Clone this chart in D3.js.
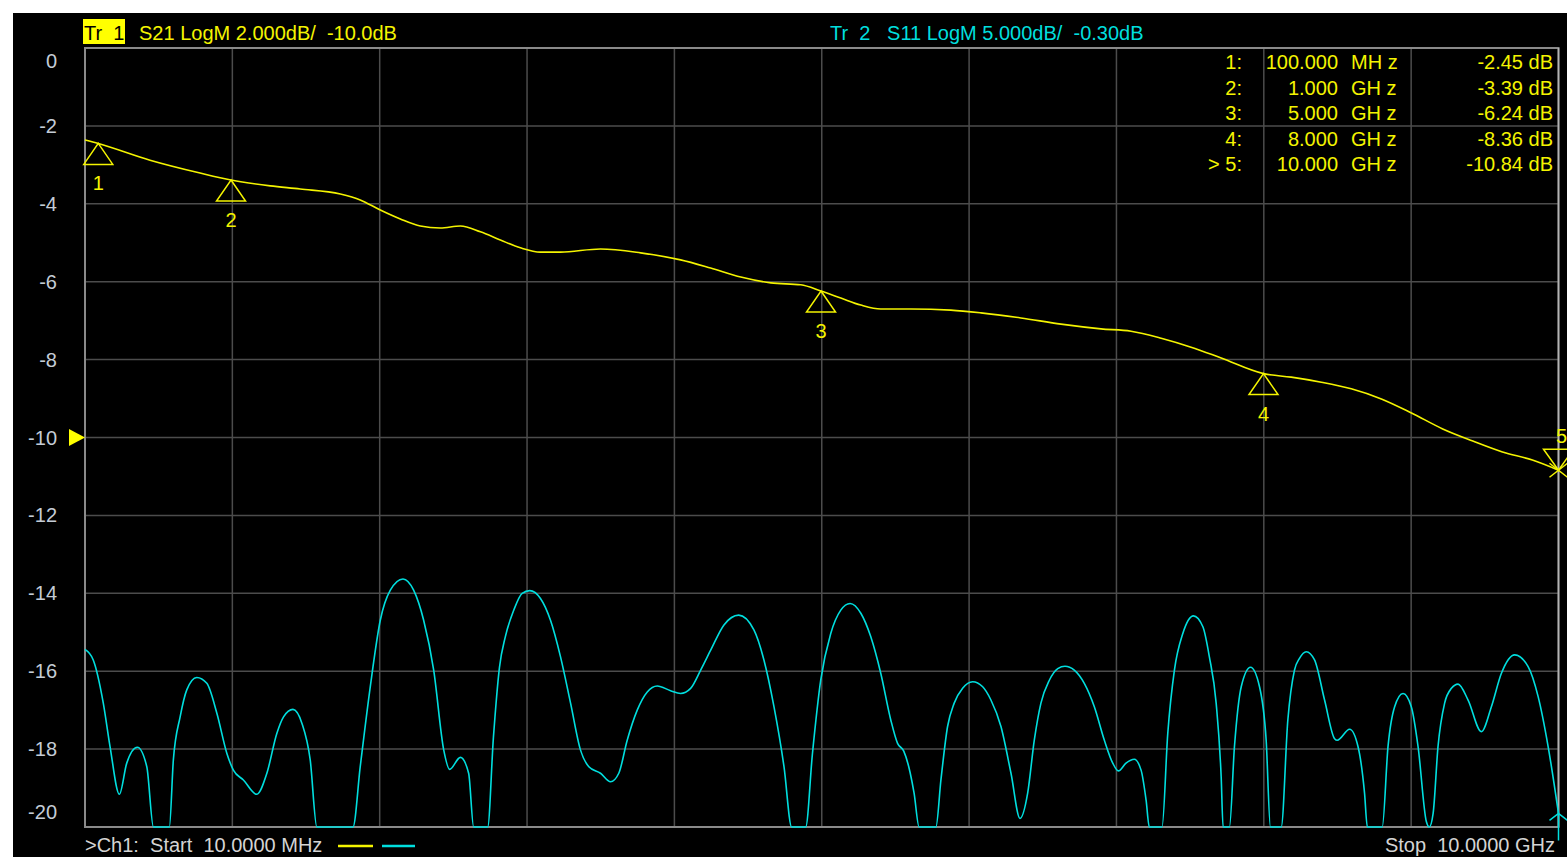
<!DOCTYPE html>
<html>
<head>
<meta charset="utf-8">
<script src="https://cdn.jsdelivr.net/npm/d3@7"></script>
<style>
  html, body { margin: 0; padding: 0; background: #fff; }
  svg { display: block; }
  text { font-family: "Liberation Sans", Arial, sans-serif; white-space: pre; }
</style>
</head>
<body>
<div id="chart"></div>
<script>
// sweep + trace settings
const startGHz = 0.01;
const stopGHz = 10;
const tr1Ref = -10.0, tr1Scale = 2.0;   // S21 LogM 2.000dB/ -10.0dB
const tr2Ref = -0.30, tr2Scale = 5.0;   // S11 LogM 5.000dB/ -0.30dB

const yTicks = [0, -2, -4, -6, -8, -10, -12, -14, -16, -18, -20];

// S21 (yellow)
const s21Freq = [0.01, 0.1, 0.451, 0.79, 1.0, 1.266, 1.469, 1.741, 1.876, 2.012, 2.148, 2.283, 2.419, 2.555, 2.691, 2.826, 2.962, 3.098, 3.234, 3.505, 3.777, 4.048, 4.252, 4.456, 4.66, 4.863, 5.0, 5.134, 5.27, 5.405, 5.609, 5.88, 6.084, 6.355, 6.627, 6.898, 7.102, 7.306, 7.509, 7.713, 8.0, 8.188, 8.392, 8.595, 8.799, 9.003, 9.215, 9.419, 9.62, 9.823, 10.0];
const s21Db = [-2.36, -2.45, -2.88, -3.21, -3.39, -3.54, -3.62, -3.75, -3.90, -4.16, -4.39, -4.57, -4.62, -4.57, -4.72, -4.93, -5.13, -5.24, -5.24, -5.16, -5.26, -5.44, -5.65, -5.88, -6.03, -6.08, -6.24, -6.42, -6.60, -6.70, -6.70, -6.73, -6.80, -6.93, -7.09, -7.21, -7.27, -7.45, -7.68, -7.96, -8.36, -8.45, -8.58, -8.75, -9.01, -9.37, -9.78, -10.09, -10.37, -10.58, -10.84];

// S11 (cyan), in its own dB; -28 = below the bottom of the screen
const s11Freq = [0.010, 0.066, 0.134, 0.180, 0.243, 0.293, 0.365, 0.429, 0.474, 0.582, 0.609, 0.655, 0.700, 0.768, 0.836, 0.904, 0.972, 1.016, 1.084, 1.175, 1.243, 1.311, 1.356, 1.420, 1.481, 1.537, 1.582, 1.827, 1.876, 1.944, 2.012, 2.080, 2.166, 2.238, 2.306, 2.374, 2.442, 2.482, 2.555, 2.611, 2.645, 2.740, 2.779, 2.820, 2.860, 2.917, 2.974, 3.025, 3.098, 3.166, 3.234, 3.302, 3.369, 3.426, 3.505, 3.573, 3.629, 3.686, 3.754, 3.822, 3.890, 3.980, 4.048, 4.116, 4.184, 4.252, 4.342, 4.442, 4.545, 4.613, 4.681, 4.749, 4.801, 4.896, 4.942, 4.998, 5.066, 5.134, 5.197, 5.270, 5.337, 5.405, 5.473, 5.519, 5.561, 5.604, 5.631, 5.665, 5.779, 5.813, 5.858, 5.903, 5.960, 6.028, 6.096, 6.152, 6.220, 6.288, 6.349, 6.401, 6.446, 6.491, 6.548, 6.605, 6.654, 6.717, 6.785, 6.853, 6.921, 6.978, 7.016, 7.068, 7.124, 7.170, 7.204, 7.226, 7.312, 7.351, 7.396, 7.453, 7.525, 7.589, 7.633, 7.679, 7.713, 7.726, 7.769, 7.803, 7.849, 7.912, 7.973, 8.018, 8.047, 8.120, 8.165, 8.210, 8.244, 8.290, 8.346, 8.414, 8.482, 8.500, 8.584, 8.641, 8.685, 8.704, 8.805, 8.844, 8.889, 8.946, 9.002, 9.048, 9.104, 9.124, 9.150, 9.183, 9.228, 9.274, 9.319, 9.387, 9.477, 9.545, 9.613, 9.703, 9.794, 9.862, 9.930, 10.000];
const s11Db = [-13.90, -14.58, -17.35, -20.15, -23.20, -21.20, -20.18, -21.43, -28, -28, -21.00, -18.23, -16.50, -15.70, -16.08, -18.00, -20.58, -21.65, -22.28, -23.20, -21.85, -19.28, -18.23, -17.75, -18.65, -21.00, -28, -28, -21.43, -16.30, -12.03, -10.10, -9.38, -10.10, -12.03, -15.23, -20.35, -21.60, -20.83, -21.85, -28, -28, -19.55, -15.05, -13.08, -11.38, -10.30, -10.13, -10.63, -12.03, -14.38, -17.35, -20.35, -21.43, -21.85, -22.40, -21.85, -19.73, -17.80, -16.63, -16.25, -16.55, -16.73, -16.40, -15.23, -13.95, -12.33, -11.70, -12.65, -14.58, -17.58, -21.43, -28, -28, -20.58, -15.88, -12.88, -11.38, -10.95, -11.58, -13.08, -15.43, -18.43, -19.93, -20.43, -21.80, -23.13, -28, -28, -22.28, -18.85, -17.35, -16.40, -15.98, -16.30, -17.15, -18.85, -21.85, -24.75, -23.13, -19.73, -17.35, -15.88, -15.13, -14.98, -15.23, -16.08, -17.58, -19.73, -21.20, -21.70, -21.20, -20.95, -21.65, -23.58, -28, -28, -19.28, -15.23, -12.88, -11.75, -12.45, -14.38, -17.35, -22.08, -28, -28, -20.15, -16.30, -15.05, -16.30, -19.73, -28, -28, -18.43, -15.23, -14.48, -14.05, -14.58, -17.15, -19.63, -19.73, -19.03, -20.15, -23.13, -28, -28, -20.15, -17.58, -16.73, -17.58, -20.15, -24.95, -25.6, -24.43, -20.15, -17.35, -16.40, -16.13, -17.15, -19.18, -17.58, -15.43, -14.25, -15.00, -16.93, -20.15, -24.43];

// markers on trace 1
const markerIds = ['1', '2', '3', '4', '5'];
const markerFreq = [0.1, 1.0, 5.0, 8.0, 10.0];
const markerFreqText = ['100.000', '1.000', '5.000', '8.000', '10.000'];
const markerUnit = ['MH z', 'GH z', 'GH z', 'GH z', 'GH z'];
const markerDb = [-2.45, -3.39, -6.24, -8.36, -10.84];
const activeMarker = 4;
const s11MarkerDb = -24.43;

const W = 1567, H = 857;
const plot = { left: 85, right: 1558.5, top: 48, bottom: 827 };

const yellow = '#f4f400';
const cyan = '#00dede';

const svg = d3.select('#chart').append('svg')
    .attr('width', W)
    .attr('height', H);

// instrument screen
svg.append('rect')
    .attr('x', 13).attr('y', 13)
    .attr('width', W - 13).attr('height', H - 13)
    .attr('fill', '#000');

const x = d3.scaleLinear().domain([startGHz, stopGHz]).range([plot.left, plot.right]);
const y = d3.scaleLinear()
    .domain([tr1Ref - 5 * tr1Scale, tr1Ref + 5 * tr1Scale])
    .range([plot.bottom, plot.top]);
const y2 = d3.scaleLinear()
    .domain([tr2Ref - 5 * tr2Scale, tr2Ref + 5 * tr2Scale])
    .range([plot.bottom, plot.top])
    .clamp(true);

// grid
const gridF = d3.range(11).map(i => startGHz + i * (stopGHz - startGHz) / 10);
const grid = svg.append('g');
grid.selectAll('.vg')
    .data(gridF.slice(1, -1))
    .join('line')
    .attr('x1', d => x(d)).attr('x2', d => x(d))
    .attr('y1', plot.top).attr('y2', plot.bottom)
    .attr('stroke', '#4c4c4c').attr('stroke-width', 1.5);
grid.selectAll('.hg')
    .data(yTicks.slice(1, -1))
    .join('line')
    .attr('x1', plot.left).attr('x2', plot.right)
    .attr('y1', d => y(d)).attr('y2', d => y(d))
    .attr('stroke', '#4c4c4c').attr('stroke-width', 1.5);
grid.append('rect')
    .attr('x', plot.left).attr('y', plot.top)
    .attr('width', plot.right - plot.left).attr('height', plot.bottom - plot.top)
    .attr('fill', 'none').attr('stroke', '#8a8a8a').attr('stroke-width', 2);
grid.append('line')
    .attr('x1', plot.right).attr('x2', plot.right)
    .attr('y1', plot.top).attr('y2', plot.bottom)
    .attr('stroke', '#b4b4b4').attr('stroke-width', 1.5);

// y labels, end ones pushed inside the grid like the VNA does
svg.append('g').selectAll('text')
    .data(yTicks)
    .join('text')
    .attr('x', 57)
    .attr('y', d => Math.max(plot.top + 13, Math.min(plot.bottom - 15.5, y(d))) + 7)
    .attr('text-anchor', 'end')
    .style('font-size', '20px')
    .attr('fill', '#c4ccd6')
    .text(d => d);

// reference position arrow for Tr 1
const yr = y(tr1Ref);
svg.append('path')
    .attr('d', `M${plot.left - 16},${yr - 8.5} L${plot.left},${yr} L${plot.left - 16},${yr + 8.5} Z`)
    .attr('fill', '#ffff00');

// header
svg.append('rect')
    .attr('x', 83).attr('y', 19).attr('width', 42).attr('height', 25)
    .attr('fill', '#ffff00');
svg.append('text').attr('x', 84).attr('y', 40)
    .style('font-size', '20px').attr('fill', '#000')
    .text('Tr  1');
svg.append('text').attr('x', 139).attr('y', 40)
    .style('font-size', '20px').attr('fill', yellow)
    .text(`S21 LogM ${tr1Scale.toFixed(3)}dB/  ${tr1Ref.toFixed(1)}dB`);
svg.append('text').attr('x', 830).attr('y', 40)
    .style('font-size', '20px').attr('fill', cyan)
    .text(`Tr  2   S11 LogM ${tr2Scale.toFixed(3)}dB/  ${tr2Ref.toFixed(2)}dB`);

// traces
const s21 = s21Freq.map((f, i) => ({ f: f, v: s21Db[i] }));
const s11 = s11Freq.map((f, i) => ({ f: f, v: s11Db[i] }));

svg.append('path')
    .datum(s11)
    .attr('d', d3.line().x(d => x(d.f)).y(d => y2(d.v)).curve(d3.curveMonotoneX))
    .attr('fill', 'none').attr('stroke', cyan).attr('stroke-width', 1.6);

svg.append('path')
    .datum(s21)
    .attr('d', d3.line().x(d => x(d.f)).y(d => y(d.v)).curve(d3.curveMonotoneX))
    .attr('fill', 'none').attr('stroke', yellow).attr('stroke-width', 1.6);

// markers on trace 1
const mk = svg.append('g');
markerIds.forEach((id, i) => {
    const mx = x(markerFreq[i]);
    const my = y(markerDb[i]);
    if (i === activeMarker) {
        mk.append('path')
            .attr('d', `M${mx - 15},${my - 21} L${mx + 15},${my - 21} L${mx},${my} Z`)
            .attr('fill', 'none').attr('stroke', yellow).attr('stroke-width', 1.5);
        mk.append('path')
            .attr('d', `M${mx - 9},${my - 7} L${mx + 9},${my + 7} M${mx - 9},${my + 7} L${mx + 9},${my - 7}`)
            .attr('stroke', yellow).attr('stroke-width', 1.5);
        mk.append('text')
            .attr('x', mx + 3).attr('y', my - 27)
            .attr('text-anchor', 'middle')
            .style('font-size', '20px').attr('fill', yellow)
            .text(id);
    } else {
        mk.append('path')
            .attr('d', `M${mx},${my} L${mx + 14.5},${my + 21} L${mx - 14.5},${my + 21} Z`)
            .attr('fill', 'none').attr('stroke', yellow).attr('stroke-width', 1.5);
        mk.append('text')
            .attr('x', mx).attr('y', my + 47)
            .attr('text-anchor', 'middle')
            .style('font-size', '20px').attr('fill', yellow)
            .text(id);
    }
});

// marker 5 on trace 2 (mostly hidden below the grid)
const cx5 = x(markerFreq[activeMarker]);
const cy5 = y2(s11MarkerDb);
svg.append('path')
    .attr('d', `M${cx5 - 9},${cy5 + 7} L${cx5},${cy5} L${cx5 + 9},${cy5 + 7} M${cx5},${cy5} L${cx5},${cy5 + 27}`)
    .attr('fill', 'none').attr('stroke', cyan).attr('stroke-width', 1.5);

// marker table
const rowY = i => 69 + i * 25.5;
const tbl = svg.append('g').style('font-size', '20px').attr('fill', yellow);
markerIds.forEach((id, i) => {
    tbl.append('text').attr('x', 1242).attr('y', rowY(i)).attr('text-anchor', 'end')
        .text((i === activeMarker ? '> ' : '') + id + ':');
    tbl.append('text').attr('x', 1338).attr('y', rowY(i)).attr('text-anchor', 'end')
        .text(markerFreqText[i]);
    tbl.append('text').attr('x', 1351).attr('y', rowY(i))
        .text(markerUnit[i]);
    tbl.append('text').attr('x', 1553).attr('y', rowY(i)).attr('text-anchor', 'end')
        .text(markerDb[i].toFixed(2) + ' dB');
});

// footer (sits right at the bottom edge, kept just inside)
svg.append('text').attr('x', 85).attr('y', 852)
    .style('font-size', '20px').attr('fill', '#d4d4d4')
    .text('>Ch1:  Start  10.0000 MHz');
svg.append('line').attr('x1', 338).attr('x2', 373).attr('y1', 846).attr('y2', 846)
    .attr('stroke', yellow).attr('stroke-width', 2.5);
svg.append('line').attr('x1', 382).attr('x2', 415).attr('y1', 846).attr('y2', 846)
    .attr('stroke', cyan).attr('stroke-width', 2.5);
svg.append('text').attr('x', 1555).attr('y', 852)
    .attr('text-anchor', 'end')
    .style('font-size', '20px').attr('fill', '#d4d4d4')
    .text('Stop  10.0000 GHz');
</script>
</body>
</html>
